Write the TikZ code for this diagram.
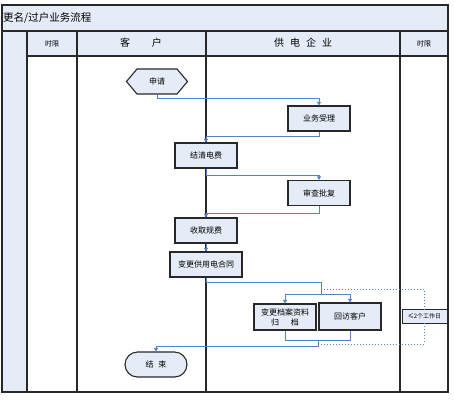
\documentclass[tikz,border=0pt]{standalone}
\usepackage{fontspec}
\setmainfont{Noto Sans CJK SC}
\usetikzlibrary{shapes.symbols,arrows.meta}
\definecolor{fillb}{RGB}{230,236,247}
\definecolor{lineb}{RGB}{84,130,196}
\definecolor{gridc}{RGB}{40,40,40}
\begin{document}
\begin{tikzpicture}[x=1pt,y=-1pt,
  box/.style={draw=gridc, line width=1.1pt, fill=fillb, minimum width=62pt, minimum height=25pt, inner sep=1pt, font=\fontsize{8}{9.5}\selectfont},
  flow/.style={draw=lineb, line width=1pt, -{Triangle[length=3.5pt,width=4pt]}},
  wire/.style={draw=lineb, line width=1pt},
  dotl/.style={draw=lineb, line width=1pt, dotted},
  gridl/.style={draw=gridc, line width=1.2pt},
  hdr/.style={font=\fontsize{7}{8}\selectfont}]
\useasboundingbox (0,0) rectangle (454,402);
% fills
\fill[fillb] (2,5) rectangle (448,31);
\fill[fillb] (27,31) rectangle (448,56);
\fill[fillb] (2,31) rectangle (27,392);
% grid
\draw[gridl] (2,5) rectangle (448,392);
\draw[gridl] (2,31) -- (448,31);
\draw[gridl] (27,56) -- (448,56);
\foreach \xx in {27,77,206,400} \draw[gridl] (\xx,31) -- (\xx,392);
% texts
\node[anchor=west, inner sep=0pt, font=\fontsize{10.5}{12}\selectfont] (title) at (3,18) {更名/过户业务流程};
\node[hdr] (h1) at (52,44) {时限};
\node[font=\fontsize{10}{12}\selectfont] (h2) at (141,43) {客\hspace{2.2em}户};
\node[font=\fontsize{10}{12}\selectfont] (h3) at (303,43) {供\hspace{0.6em}电\hspace{0.6em}企\hspace{0.6em}业};
\node[hdr] (h4) at (424,44) {时限};
% nodes
\node[box, shape=signal, signal to=west and east, signal pointer angle=100, minimum width=61pt] (sq) at (157,81.5) {申请};
\node[box] (sl) at (319,118.5) {业务受理};
\node[box] (jq) at (206,155.5) {结清电费};
\node[box] (sc) at (319,193) {审查批复};
\node[box] (sf) at (206,230.5) {收取规费};
\node[box, minimum width=72pt] (bg) at (206,264.5) {变更供用电合同};
\node[box, align=center, minimum height=26pt, font=\fontsize{8}{10}\selectfont] (da) at (285,317) {变更档案资料\\归\hspace{1.5em}档};
\node[box, minimum height=27pt] (hf) at (350,316.5) {回访客户};
\node[box, rounded corners=12.5pt, minimum height=25pt] (js) at (156,364.5) {结\hspace{0.6em}束};
\node[box, minimum width=45pt, minimum height=14pt, inner sep=0.5pt, line width=0.9pt, font=\fontsize{6}{7}\selectfont] (lim) at (424.5,316) {≤2个工作日};
% connectors
\draw[flow] (sq.south) -- ++(0,4) -| (sl.north);
\draw[flow] (sl.south) -- ++(0,5) -| (jq.north);
\draw[flow] (jq.south) -- ++(0,7) -| (sc.north);
\draw[flow] (sc.south) -- ++(0,7) -| (sf.north);
\draw[flow] (sf.south) -- (bg.north);
\coordinate (s1) at (321,282);
\coordinate (s2) at (321,294);
\coordinate (d1) at (321,289);
\coordinate (m1) at (318,340);
\coordinate (d2) at (320,344);
\draw[wire] (bg.south) |- (s1) -- (s2);
\draw[flow] (s2) -| (da.north);
\draw[flow] (s2) -| (hf.north);
\draw[wire] (da.south) -- ++(0,10) -| (hf.south);
\draw[flow] (m1) -- ++(0,6) -| (js.north);
\draw[dotl] (d1) -| (lim.north);
\draw[dotl] (lim.south) |- (d2);
\end{tikzpicture}
\end{document}
